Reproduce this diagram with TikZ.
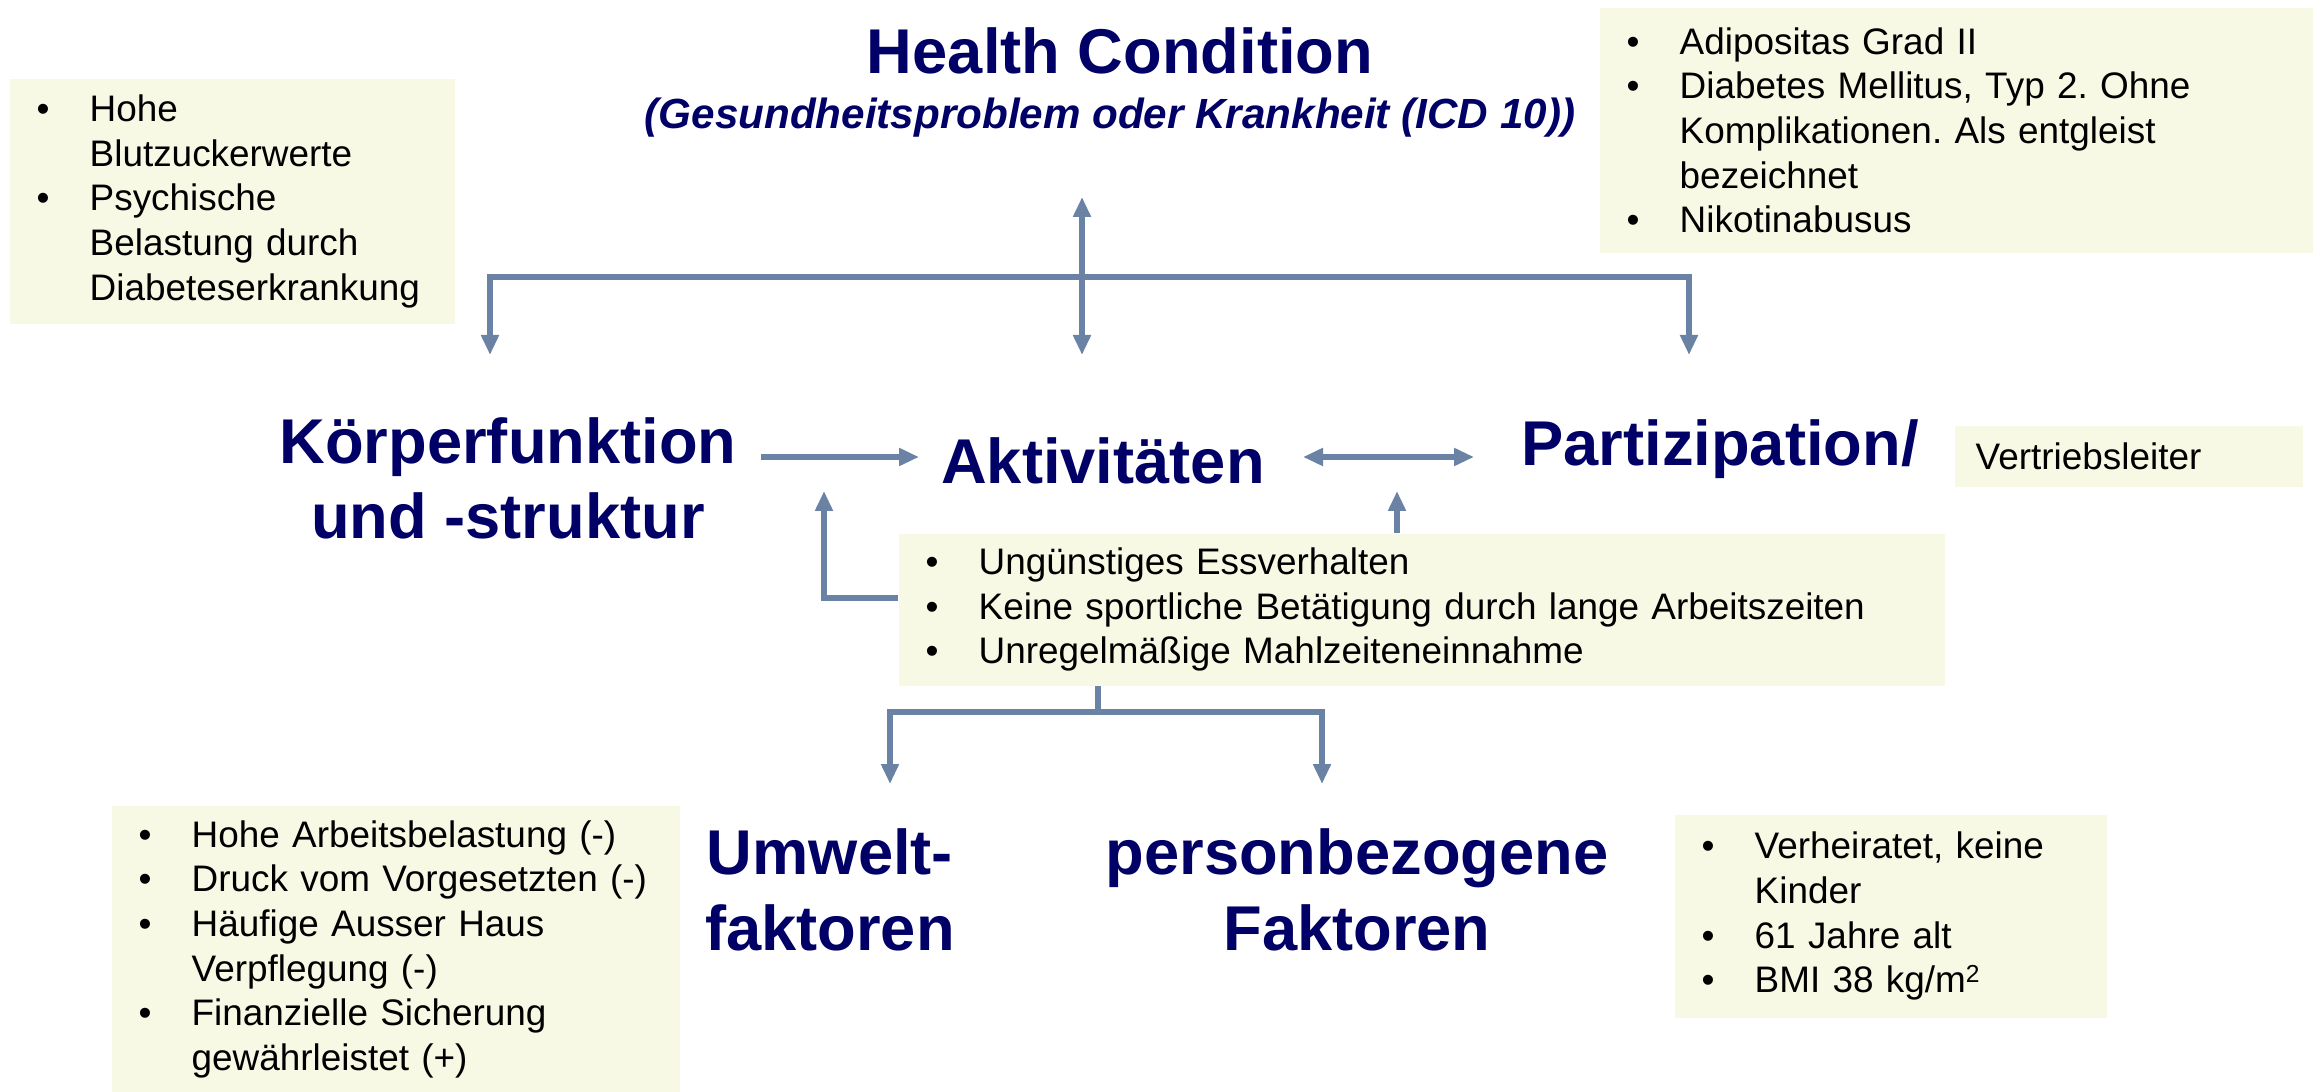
\documentclass[tikz,border=0pt]{standalone}
\usepackage{fontspec}
\setmainfont{Liberation Sans}
\usetikzlibrary{arrows.meta, positioning}

\definecolor{icfnavy}{RGB}{0,0,102}
\definecolor{icfline}{RGB}{106,130,163}
\definecolor{icfbox}{RGB}{247,249,228}

\newcommand{\bl}{\makebox[0.53cm][l]{\textbullet}}
\newcommand{\cl}{\hspace*{0.53cm}}
\frenchspacing

\begin{document}
\begin{tikzpicture}[
    >={Triangle[width=0.17cm, length=0.2cm]},
    label/.style={text=icfnavy, font=\bfseries\fontsize{18}{21.6}\selectfont, align=center, inner sep=0pt, anchor=base},
    infobox/.style={fill=icfbox, anchor=north west, align=left, inner xsep=0.27cm, inner ysep=0pt,
        font=\fontsize{10.5}{12.7}\selectfont},
    conn/.style={draw=icfline, line width=1.6pt},
    ]
    \useasboundingbox (0,0) rectangle (23.21,-10.92);

    % main labels (base = last line)
    \node[label] (hc) at (11.20,-0.74) {Health Condition};
    \node[label, font=\bfseries\itshape\fontsize{12}{14}\selectfont] (icd) at (11.10,-1.29)
        {(Gesundheitsproblem oder Krankheit (ICD 10))};
    \node[label] (kf)   at (5.08,-5.39)  {Körperfunktion\\und -struktur};
    \node[label] (akt)  at (11.03,-4.84) {Aktivitäten};
    \node[label] (part) at (17.20,-4.66) {Partizipation/};
    \node[label] (umw)  at (8.30,-9.50)  {Umwelt-\\faktoren};
    \node[label] (pers) at (13.57,-9.50) {personbezogene\\Faktoren};

    % boxes
    \node[infobox, text width=3.91cm, minimum height=2.45cm] (kfBox) at (0.09,-0.78)
        {\bl Hohe\\ \cl Blutzuckerwerte\\ \bl Psychische\\ \cl Belastung durch\\ \cl Diabeteserkrankung};
    \node[infobox, text width=6.59cm, minimum height=2.45cm] (hcBox) at (15.99,-0.07)
        {\bl Adipositas Grad II\\ \bl Diabetes Mellitus, Typ 2. Ohne\\ \cl Komplikationen. Als entgleist\\
         \cl bezeichnet\\ \bl Nikotinabusus};
    \node[infobox, inner xsep=0.21cm, text width=3.06cm, minimum height=0.61cm] (partBox) at (19.54,-4.25)
        {Vertriebsleiter};
    \node[infobox, text width=9.92cm, minimum height=1.52cm] (aktBox) at (8.98,-5.33)
        {\bl Ungünstiges Essverhalten\\ \bl Keine sportliche Betätigung durch lange Arbeitszeiten\\
         \bl Unregelmäßige Mahlzeiteneinnahme};
    \node[infobox, text width=5.14cm, minimum height=2.87cm] (umwBox) at (1.11,-8.05)
        {\bl Hohe Arbeitsbelastung (-)\\ \bl Druck vom Vorgesetzten (-)\\ \bl Häufige Ausser Haus\\
         \cl Verpflegung (-)\\ \bl Finanzielle Sicherung\\ \cl gewährleistet (+)};
    \node[infobox, text width=3.78cm, minimum height=2.03cm] (persBox) at (16.74,-8.14)
        {\bl Verheiratet, keine\\ \cl Kinder\\ \bl 61 Jahre alt\\ \bl BMI 38 kg/m\raisebox{0.5ex}{\scriptsize 2}};

    % connector points
    \coordinate (hcTip)   at (10.82,-1.97);
    \coordinate (hub)     at (10.82,-2.77);
    \coordinate (aktTip)  at (10.82,-3.55);
    \coordinate (kfTip)   at (4.90,-3.55);
    \coordinate (partTip) at (16.89,-3.55);
    \coordinate (kfOut)   at (7.61,-4.57);
    \coordinate (aktIn)   at (9.19,-4.57);
    \coordinate (aktOut)  at (13.03,-4.57);
    \coordinate (partIn)  at (14.74,-4.57);
    \coordinate (leftUp)  at (8.24,-4.91);
    \coordinate (rightUp) at (13.97,-4.91);
    \coordinate (split)   at (10.98,-7.12);
    \coordinate (umwTip)  at (8.90,-7.84);
    \coordinate (persTip) at (13.22,-7.84);

    \draw[conn, <->] (hcTip) -- (aktTip);
    \draw[conn, ->] (hub) -| (kfTip);
    \draw[conn, ->] (hub) -| (partTip);
    \draw[conn, ->] (kfOut) -- (aktIn);
    \draw[conn, <->] (aktOut) -- (partIn);
    \draw[conn, ->] (aktBox.west |- 0,-5.98) -| (leftUp);
    \draw[conn, ->] (aktBox.north -| rightUp) -- (rightUp);
    \draw[conn] (aktBox.south -| split) -- (split);
    \draw[conn, ->] (split) -| (umwTip);
    \draw[conn, ->] (split) -| (persTip);
\end{tikzpicture}
\end{document}
